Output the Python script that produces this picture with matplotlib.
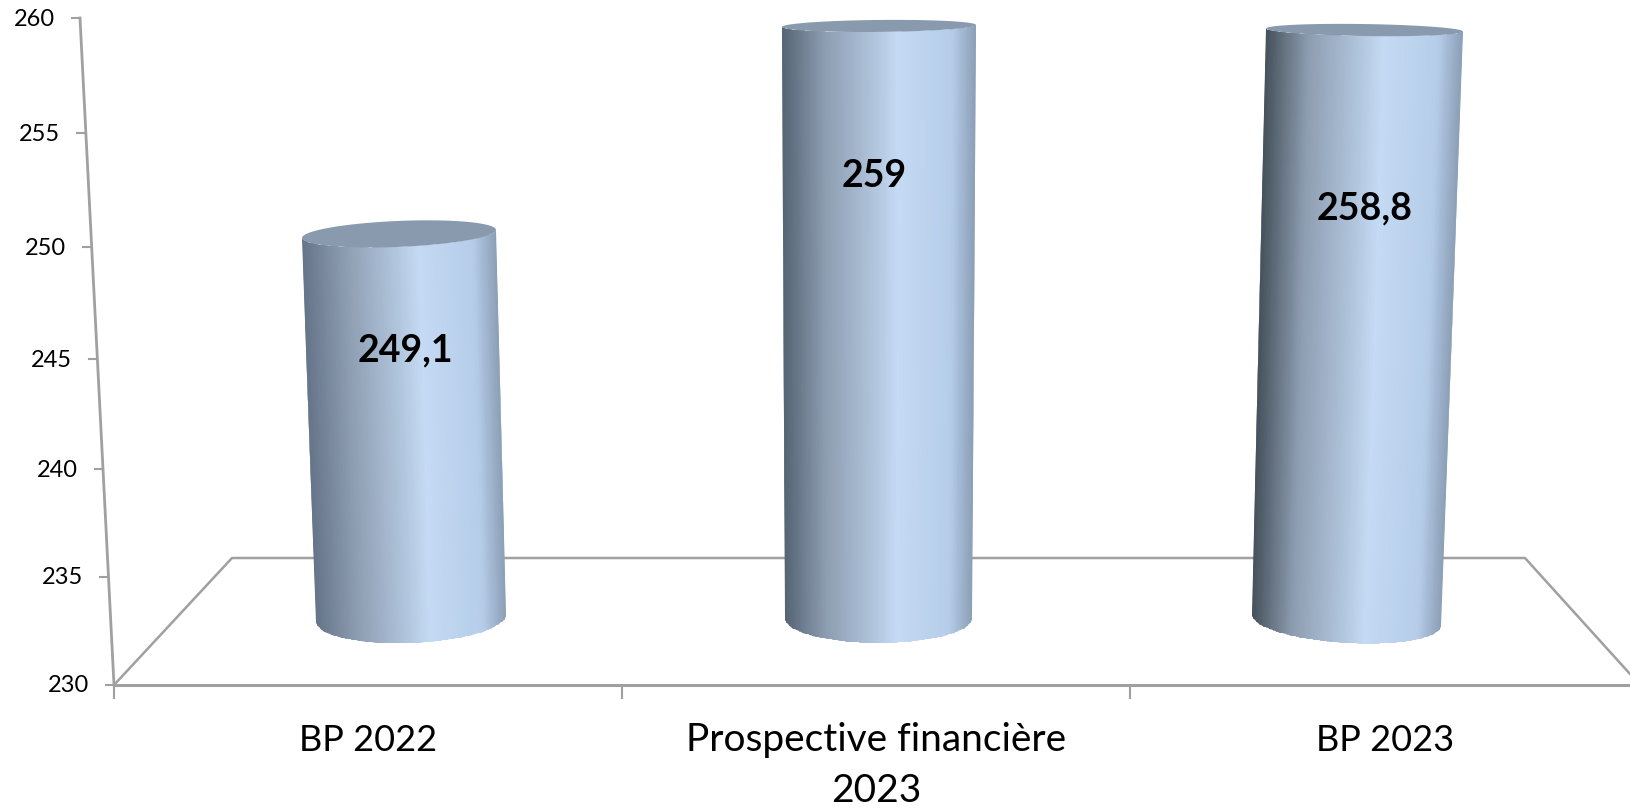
import numpy as np
import matplotlib
matplotlib.use('Agg')
import matplotlib.pyplot as plt
from matplotlib.colors import LinearSegmentedColormap
from matplotlib.patches import Polygon

plt.rcParams['font.family'] = ['Lato', 'DejaVu Sans']

categories = ['BP 2022', 'Prospective financière\n2023', 'BP 2023']
values = [249.1, 259, 258.8]
value_labels = ['249,1', '259', '258,8']
y_ticks = [230, 235, 240, 245, 250, 255, 260]

W, H = 1630, 809
PX_PER_UNIT = 20.45   # cylinders sit deeper than the wall, so a smaller scale
BASE_PX = 620

# layout, in pixels: edges at top and bottom, cap centre nudges, cap sizes and tilts
cyl_top = [(302, 496), (782, 976), (1266, 1463)]
cyl_bot = [(316, 506), (785, 972), (1252, 1441)]
cap_nudge = [4.5, -1, -1]
base_nudge = [-2, -2, 0]
cap_b = [13, 6, 6]
base_b = [25, 25, 23]
cap_tilt = [-8, -2, 3]
base_tilt = [-7, 0, 11]
cyl_dark = ['#66758a', '#566574', '#46525c']
label_pos = [(405, 350), (874, 176), (1365, 208)]
cat_x = [368, 876, 1385]
cat_size = [26, 28, 26]
cat_top = [724, 722, 724]
wall_y = [685, 577, 469, 359, 247, 133, 18]
wall_x = [114, 108, 103, 97, 91, 85, 80]

fig = plt.figure(figsize=(W / 100, H / 100), dpi=100, facecolor='white')

# frame in pixels
axf = fig.add_axes([0, 0, 1, 1])
axf.set_xlim(0, W)
axf.set_ylim(H, 0)
axf.axis('off')
grey = '#a0a0a0'
axf.plot([wall_x[-1], wall_x[0]], [wall_y[-1], wall_y[0]], color=grey, lw=2)
axf.plot([114, 1640], [685, 685], color=grey, lw=2.2)
axf.plot([114, 232, 1525, 1640], [685, 558, 558, 685], color=grey, lw=1.8)
for v, x, y in zip(y_ticks, wall_x, wall_y):
    axf.plot([x - 8, x], [y, y], color=grey, lw=1.5)
    axf.text(x - 25, y + 1, str(v), ha='right', va='center', fontsize=17, color='black')
for x in [114, 622, 1130]:
    axf.plot([x, x], [685, 698], color=grey, lw=1.5)
for x, y, size, name in zip(cat_x, cat_top, cat_size, categories):
    axf.text(x, y, name, ha='center', va='top', fontsize=size, color='black',
             linespacing=1.5)

# cylinders: x in pixels, y in chart values
axc = fig.add_axes([0, 0, 1, 1])
axc.patch.set_alpha(0)
axc.set_xlim(0, W)
axc.set_ylim(230 - (H - BASE_PX) / PX_PER_UNIT, 230 + BASE_PX / PX_PER_UNIT)
axc.axis('off')


def arc(cx, cy, a, b, tilt, t0, t1):
    # arc of a flattened ellipse, b and tilt in pixels, cy in values
    t = np.linspace(t0, t1, 80)
    x = cx + a * np.cos(t)
    y = cy + (b * np.sin(t) - tilt / 2 * np.cos(t)) / PX_PER_UNIT
    return np.column_stack([x, y])


for i, v in enumerate(values):
    xl_t, xr_t = cyl_top[i]
    xl_b, xr_b = cyl_bot[i]
    cx_t, a_t = (xl_t + xr_t) / 2, (xr_t - xl_t) / 2
    cx_b, a_b = (xl_b + xr_b) / 2, (xr_b - xl_b) / 2
    top_v = v - cap_nudge[i] / PX_PER_UNIT
    base_v = 230 - base_nudge[i] / PX_PER_UNIT

    # side of the body, closed by the lower halves of both caps
    bottom = arc(cx_b, base_v, a_b, base_b[i], base_tilt[i], np.pi, 2 * np.pi)
    top = arc(cx_t, top_v, a_t, cap_b[i], cap_tilt[i], 0, -np.pi)
    body = Polygon(np.vstack([bottom, top]), closed=True, fc='none', ec='none')
    axc.add_patch(body)

    cmap = LinearSegmentedColormap.from_list('cyl', [
        (0.0, cyl_dark[i]), (0.22, '#8e9eb2'), (0.45, '#adc1d8'),
        (0.6, '#c5daf4'), (0.88, '#b6cde9'), (1.0, '#8ca0b7')])
    s = np.linspace(-0.03, 1.03, 60)
    rows = np.array([-0.1, 1.1])   # a little past both ends, the clip trims it
    X = np.array([xl_t + (xl_b - xl_t) * r + (xr_t - xl_t + (xr_b - xl_b - xr_t + xl_t) * r) * s
                  for r in rows])
    Y = np.array([np.full(60, top_v + (base_v - top_v) * r) for r in rows])
    C = np.vstack([s, s])
    mesh = axc.pcolormesh(X, Y, C, cmap=cmap, shading='gouraud', vmin=0, vmax=1)
    mesh.set_clip_path(body)

    cap = arc(cx_t, top_v, a_t, cap_b[i], cap_tilt[i], 0, 2 * np.pi)
    axc.add_patch(Polygon(cap, closed=True, fc='#8a9aae', ec='none'))

    axc.text(label_pos[i][0], label_pos[i][1], value_labels[i], ha='center', va='center',
             fontsize=27, fontweight='bold', color='black', transform=axf.transData)

fig.savefig('out.png', dpi=100, facecolor='white')
